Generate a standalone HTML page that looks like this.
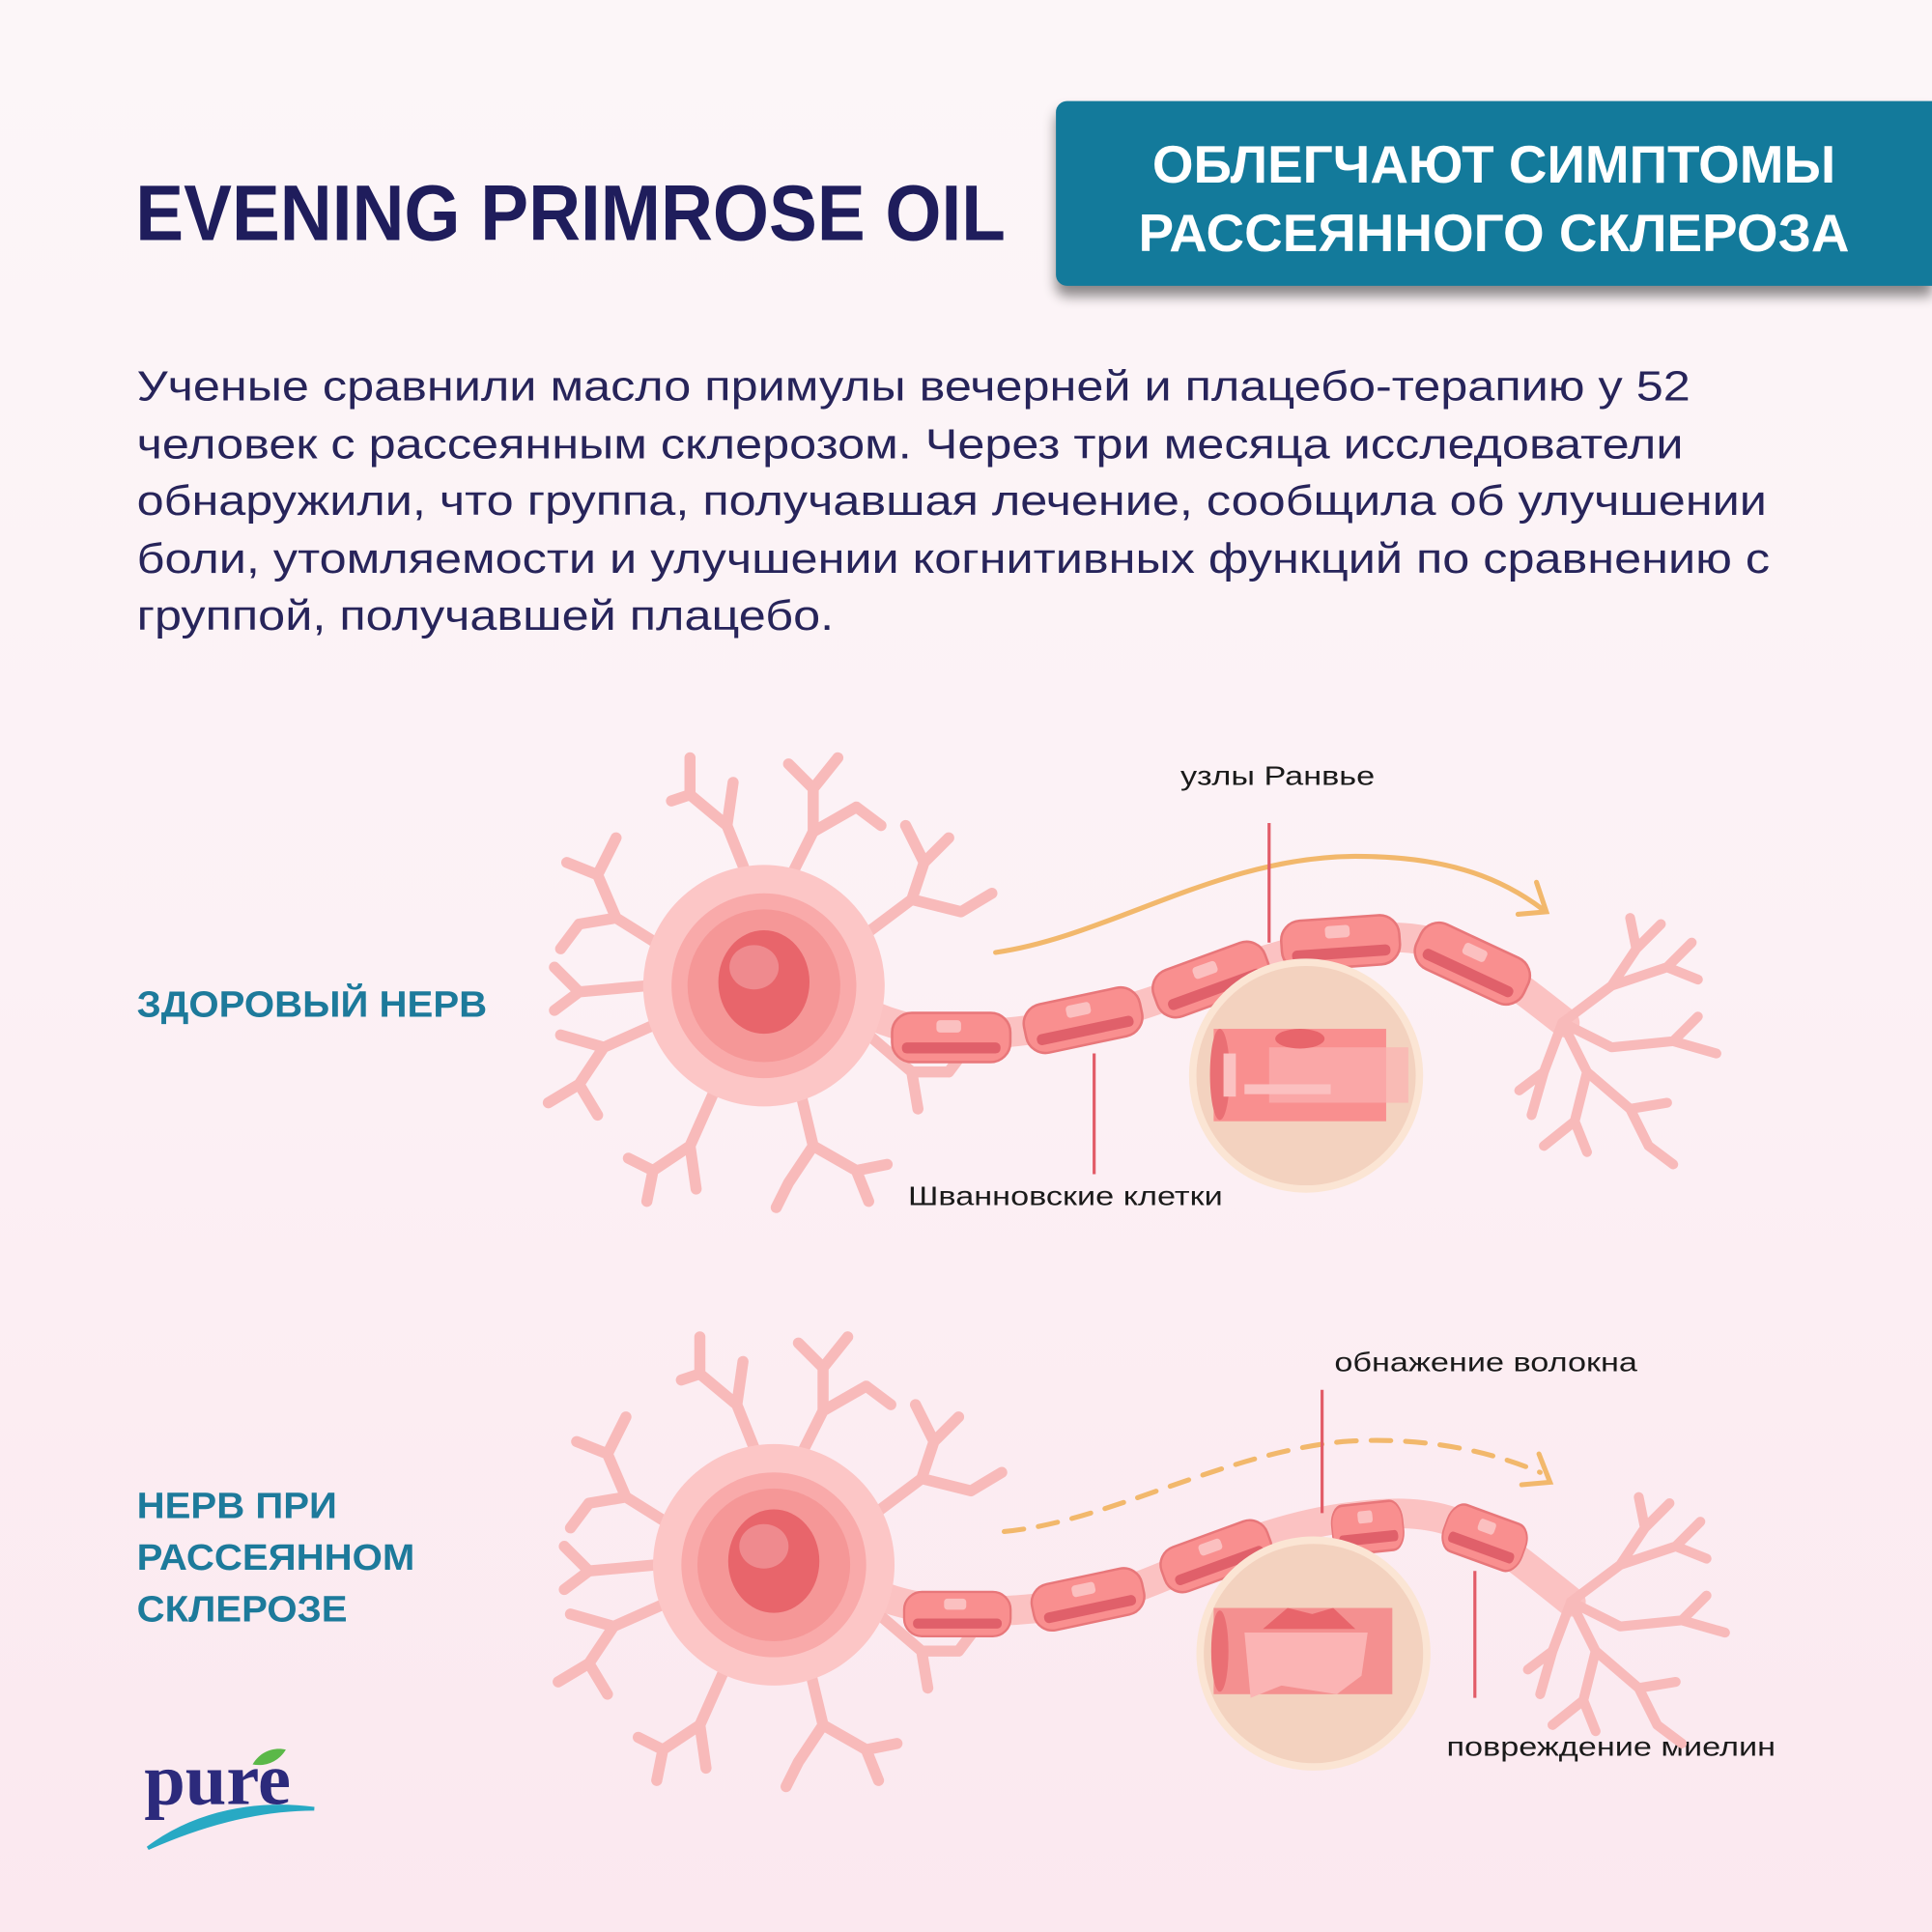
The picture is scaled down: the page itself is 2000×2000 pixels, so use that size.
<!DOCTYPE html>
<html><head><meta charset="utf-8">
<style>
html,body{margin:0;padding:0;width:2000px;height:2000px;overflow:hidden;}
#w{position:absolute;left:0;top:0;width:1568px;height:1568px;transform:scale(1.27551);transform-origin:0 0;
background:linear-gradient(180deg,#fcf6f8 0%,#fcf1f5 50%,#fbe8ef 100%);font-family:"Liberation Sans","DejaVu Sans",sans-serif;}
.t{position:absolute;white-space:nowrap;transform-origin:0 0;}
.lb{font-size:22px;color:#1a1a1a;transform:scaleX(1.22);}
</style></head><body><div id="w">
<div class="t" style="left:110px;top:136px;font-size:64px;font-weight:bold;color:#1f1d5c;transform:scaleX(0.915);">EVENING PRIMROSE OIL</div>
<div style="position:absolute;left:857px;top:82px;width:711px;height:150px;background:#137a9b;border-radius:9px 0 0 9px;box-shadow:0 8px 10px rgba(0,0,0,0.45);"></div>
<div class="t" style="left:857px;top:106px;width:711px;text-align:center;font-size:43px;line-height:56px;font-weight:bold;color:#fff;">ОБЛЕГЧАЮТ СИМПТОМЫ<br>РАССЕЯННОГО СКЛЕРОЗА</div>
<div class="t" style="left:111px;top:291px;font-size:34.5px;line-height:46.5px;color:#27245a;transform:scaleX(1.145);">Ученые сравнили масло примулы вечерней и плацебо-терапию у 52<br>человек с рассеянным склерозом. Через три месяца исследователи<br>обнаружили, что группа, получавшая лечение, сообщила об улучшении<br>боли, утомляемости и улучшении когнитивных функций по сравнению с<br>группой, получавшей плацебо.</div>
<div class="t" style="left:111px;top:799px;font-size:30px;font-weight:bold;color:#1d7a9b;transform:scaleX(1.05);">ЗДОРОВЫЙ НЕРВ</div>
<div class="t" style="left:111px;top:1202px;font-size:30px;line-height:42px;font-weight:bold;color:#1d7a9b;transform:scaleX(1.05);">НЕРВ ПРИ<br>РАССЕЯННОМ<br>СКЛЕРОЗЕ</div>
<div class="t lb" style="left:958px;top:617px;">узлы Ранвье</div>
<div class="t lb" style="left:737px;top:958px;">Шванновские клетки</div>
<div class="t lb" style="left:1083px;top:1093px;">обнажение волокна</div>
<div class="t lb" style="left:1174px;top:1405px;">повреждение миелин</div>
<div class="t" style="left:117px;top:1410px;font-size:60px;font-weight:bold;font-family:'Liberation Serif',serif;color:#2c2a7c;">pure</div>
<svg style="position:absolute;left:0;top:0" width="1568" height="1568" viewBox="0 0 1568 1568">
<defs>
<g id="dend" fill="none" stroke="#f8baba" stroke-width="9" stroke-linecap="round" stroke-linejoin="round">
<path d="M-10,-80 L-30,-130 L-60,-155 M-30,-130 L-25,-165 M-60,-155 L-75,-150 M-60,-155 L-60,-185"/>
<path d="M20,-85 L40,-125 L40,-160 M40,-125 L75,-145 M40,-160 L20,-180 M40,-160 L60,-185 M75,-145 L95,-130"/>
<path d="M-80,-30 L-120,-55 L-150,-50 M-120,-55 L-135,-90 M-135,-90 L-160,-100 M-135,-90 L-120,-120 M-150,-50 L-165,-30"/>
<path d="M80,-40 L120,-70 L130,-100 M120,-70 L160,-60 L185,-75 M130,-100 L115,-130 M130,-100 L150,-120"/>
<path d="M-85,30 L-130,50 L-150,80 M-130,50 L-165,40 M-150,80 L-135,105 M-150,80 L-175,95"/>
<path d="M-40,85 L-60,130 L-90,150 M-60,130 L-55,165 M-90,150 L-110,140 M-90,150 L-95,175"/>
<path d="M30,88 L40,130 L20,160 M40,130 L75,150 L85,175 M20,160 L10,180 M75,150 L100,145"/>
<path d="M85,40 L120,70 L150,70 M120,70 L125,100 M150,70 L165,50"/>
<path d="M-95,0 L-150,5 L-170,-15 M-150,5 L-170,20"/>
</g>
<g id="term" fill="none" stroke="#f8baba" stroke-width="8" stroke-linecap="round" stroke-linejoin="round">
<path d="M0,0 L40,-30 L60,-60 L80,-80 M60,-60 L55,-85 M40,-30 L85,-45 L110,-35 M85,-45 L105,-65"/>
<path d="M0,0 L40,20 L90,15 L125,25 M90,15 L110,-5"/>
<path d="M0,0 L20,40 L10,80 L-15,100 M10,80 L20,105 M20,40 L55,70 L70,100 M55,70 L85,65 M70,100 L90,115"/>
<path d="M0,0 L-15,40 L-25,75 M-15,40 L-35,55"/>
</g>
<g id="soma">
<circle r="98" fill="#fcc6c6"/>
<circle r="75" fill="#f9aaaa"/>
<circle r="62" fill="#f59797"/>
<ellipse cx="0" cy="-3" rx="37" ry="42" fill="#e8656b"/>
<ellipse cx="-8" cy="-15" rx="20" ry="18" fill="#ef8a8e"/>
</g>
<g id="seg">
<rect x="-48" y="-20" width="96" height="40" rx="16" fill="#f98f8f" stroke="#e8777a" stroke-width="2"/>
<rect x="-40" y="4" width="80" height="9" rx="4" fill="#e0606a"/>
<rect x="-12" y="-14" width="20" height="10" rx="3" fill="#fbc0c0"/>
</g>
</defs>
<use href="#dend" x="620" y="800"/>
<path d="M690,815 C740,845 800,845 880,828 S1000,780 1085,765 S1200,775 1270,830" fill="none" stroke="#fbc2c2" stroke-width="24" stroke-linecap="round"/>
<use href="#term" x="1268" y="830"/>
<use href="#soma" x="620" y="800"/>
<use href="#seg" transform="translate(772,842)"/>
<use href="#seg" transform="translate(879,828) rotate(-12)"/>
<use href="#seg" transform="translate(983,795) rotate(-20)"/>
<use href="#seg" transform="translate(1088,765) rotate(-4)"/>
<use href="#seg" transform="translate(1195,782) rotate(25)"/>
<path d="M808,773 C900,760 990,695 1100,695 C1170,695 1215,710 1252,738" fill="none" stroke="#f2b86c" stroke-width="4" stroke-linecap="round"/>
<path d="M1247,716 L1255,740 L1232,742" fill="none" stroke="#f2b86c" stroke-width="4" stroke-linecap="round"/>
<circle cx="1060" cy="873" r="92" fill="#f3d2bf" stroke="#fbe5d4" stroke-width="6"/>
<rect x="985" y="835" width="140" height="75" fill="#f98f8f"/>
<rect x="1030" y="850" width="113" height="45" fill="#fbb0b0" opacity="0.7"/>
<ellipse cx="990" cy="872" rx="8" ry="37" fill="#ea6f74"/>
<rect x="993" y="855" width="10" height="35" fill="#fbc2c2"/>
<ellipse cx="1055" cy="843" rx="20" ry="8" fill="#e8656b"/>
<rect x="1010" y="880" width="70" height="8" fill="#fbc0c0"/>
<line x1="1030" y1="668" x2="1030" y2="765" stroke="#e25c68" stroke-width="2.5"/>
<line x1="888" y1="855" x2="888" y2="953" stroke="#e25c68" stroke-width="2.5"/>
<use href="#dend" x="628" y="1270"/>
<path d="M695,1285 C740,1315 820,1310 880,1300 S1000,1245 1090,1232 S1200,1240 1275,1300" fill="none" stroke="#fbc2c2" stroke-width="24" stroke-linecap="round"/>
<use href="#term" x="1275" y="1300"/>
<use href="#soma" x="628" y="1270"/>
<use href="#seg" transform="translate(777,1310) scale(0.9)"/>
<use href="#seg" transform="translate(883,1298) rotate(-12) scale(0.95)"/>
<use href="#seg" transform="translate(987,1263) rotate(-20) scale(0.95)"/>
<use href="#seg" transform="translate(1110,1240) rotate(-6) scale(0.6,1)"/>
<use href="#seg" transform="translate(1205,1248) rotate(20) scale(0.7,1)"/>
<path d="M815,1243 C900,1235 990,1180 1090,1170 C1160,1165 1215,1180 1250,1195" fill="none" stroke="#f2b86c" stroke-width="4" stroke-linecap="round" stroke-dasharray="16,12"/>
<path d="M1249,1180 L1258,1203 L1235,1205" fill="none" stroke="#f2b86c" stroke-width="4" stroke-linecap="round"/>
<circle cx="1066" cy="1342" r="92" fill="#f3d2bf" stroke="#fbe5d4" stroke-width="6"/>
<rect x="985" y="1305" width="145" height="70" fill="#f49090"/>
<path d="M1010,1325 L1110,1325 L1105,1360 L1085,1375 L1040,1368 L1015,1378 Z" fill="#fbb4b4"/>
<path d="M1025,1322 L1045,1305 L1065,1310 L1082,1305 L1100,1322 Z" fill="#e8656b"/>
<ellipse cx="990" cy="1340" rx="7" ry="33" fill="#ea6f74"/>
<line x1="1073" y1="1128" x2="1073" y2="1228" stroke="#e25c68" stroke-width="2.5"/>
<line x1="1197" y1="1275" x2="1197" y2="1378" stroke="#e25c68" stroke-width="2.5"/>
<path d="M120,1500 C160,1470 210,1462 255,1468 C210,1468 165,1480 120,1500 Z" fill="#28a9c4" stroke="#28a9c4" stroke-width="3"/>
<path d="M205,1432 C212,1420 224,1418 232,1420 C226,1430 215,1434 205,1432 Z" fill="#5bb848"/>
</svg>
</div></body></html>
